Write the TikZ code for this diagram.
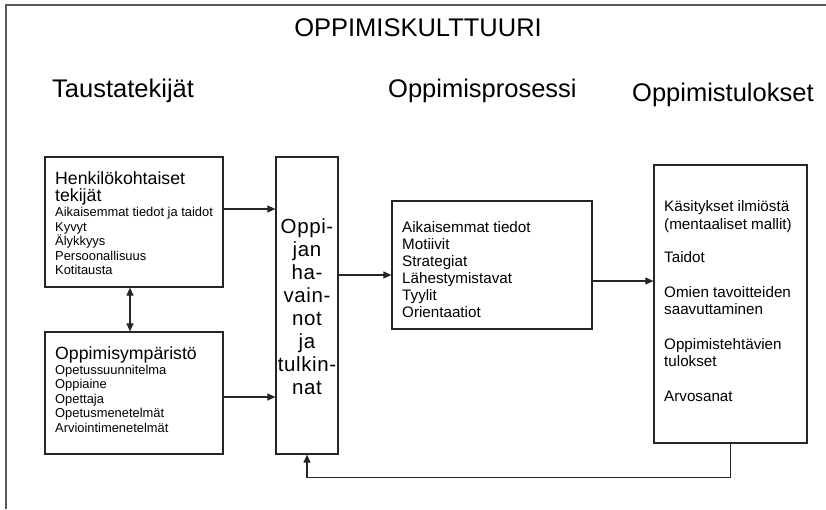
\documentclass[tikz,border=0pt]{standalone}
\usepackage{fontspec}
\setmainfont{Liberation Sans}
\usetikzlibrary{arrows.meta,calc}

\begin{document}
\begin{tikzpicture}[x=1pt,y=-1pt,
  box/.style={draw=black!85, line width=1.2pt, rectangle, inner sep=0pt},
  arr/.style={-{Triangle[length=8pt,width=7pt]}, line width=1.1pt, draw=black!85},
  dblarr/.style={{Triangle[length=8pt,width=7pt]}-{Triangle[length=8pt,width=7pt]}, line width=1.1pt, draw=black!85},
  txt/.style={inner sep=0pt, anchor=base west},
  headtxt/.style={txt, font=\fontsize{25.5}{28}\selectfont},
  boxhead/.style={txt, font=\fontsize{17.7}{20}\selectfont},
  small/.style={txt, font=\fontsize{12.9}{14}\selectfont},
  mid/.style={txt, font=\fontsize{15.2}{17}\selectfont},
  vert/.style={inner sep=0pt, anchor=base, font=\fontsize{20.5}{23}\selectfont\addfontfeature{LetterSpace=3}}
]
\useasboundingbox (0,0) rectangle (826,509);

% outer frame of the learning culture
\draw[line width=2pt, draw=black!65] (6,509) -- (6,5) -- (826,5);

% headings
\node[headtxt, anchor=base] (title) at (418,36) {OPPIMISKULTTUURI};
\node[headtxt] (hbg)   at (52,97)  {Taustatekijät};
\node[headtxt] (hproc) at (388,97) {Oppimisprosessi};
\node[headtxt] (hout)  at (632,101) {Oppimistulokset};

% boxes
\node[box, minimum width=178pt, minimum height=130pt] (pers) at (134,222) {};
\node[box, minimum width=178pt, minimum height=122pt] (env)  at (134,393) {};
\node[box, minimum width=62pt,  minimum height=297pt] (perc) at (307,305.5) {};
\node[box, minimum width=200pt, minimum height=128pt] (proc) at (492,265) {};
\node[box, minimum width=153pt, minimum height=278pt] (out)  at (730.5,304) {};

% personal factors
\node[boxhead] (pers1) at (55,184.5) {Henkilökohtaiset};
\node[boxhead] (pers2) at (55,201.5) {tekijät};
\foreach \t [count=\i] in {Aikaisemmat tiedot ja taidot, Kyvyt, Älykkyys, Persoonallisuus, Kotitausta}
  \node[small] (pi\i) at (55,{216.5+14.5*(\i-1)}) {\t};

% learning environment
\node[boxhead] (env1) at (55,359) {Oppimisympäristö};
\foreach \t [count=\i] in {Opetussuunnitelma, Oppiaine, Opettaja, Opetusmenetelmät, Arviointimenetelmät}
  \node[small] (ei\i) at (55,{374.5+14.4*(\i-1)}) {\t};

% learner's perceptions
\foreach \t [count=\i] in {Oppi-, jan, ha-, vain-, not, ja, tulkin-, nat}
  \node[vert] (v\i) at (307,{233+23*(\i-1)}) {\t};

% learning process
\foreach \t [count=\i] in {Aikaisemmat tiedot, Motiivit, Strategiat, Lähestymistavat, Tyylit, Orientaatiot}
  \node[mid] (pr\i) at (402,{232+17*(\i-1)}) {\t};

% learning outcomes
\node[mid] (o1) at (664,211) {Käsitykset ilmiöstä};
\node[mid] (o2) at (664,229) {(mentaaliset mallit)};
\node[mid] (o3) at (664,262) {Taidot};
\node[mid] (o4) at (664,297) {Omien tavoitteiden};
\node[mid] (o5) at (664,314) {saavuttaminen};
\node[mid] (o6) at (664,349) {Oppimistehtävien};
\node[mid] (o7) at (664,366.5) {tulokset};
\node[mid] (o8) at (664,401) {Arvosanat};

% connectors
\coordinate (a1) at ($(pers.east)+(0,-13)$);
\coordinate (a2) at ($(env.east)+(0,4)$);
\coordinate (a3) at ($(perc.east)+(0,-30.5)$);
\coordinate (a4) at ($(proc.east)+(0,16)$);
\coordinate (d1) at ($(pers.south)+(-4,0)$);
\draw[arr] (a1) -- (a1 -| perc.west);
\draw[arr] (a2) -- (a2 -| perc.west);
\draw[arr] (a3) -- (a3 -| proc.west);
\draw[arr] (a4) -- (a4 -| out.west);
\draw[dblarr] (d1) -- (d1 |- env.north);
\draw[arr] (out.south) -- ++(0,34) -| (perc.south);
\end{tikzpicture}
\end{document}
